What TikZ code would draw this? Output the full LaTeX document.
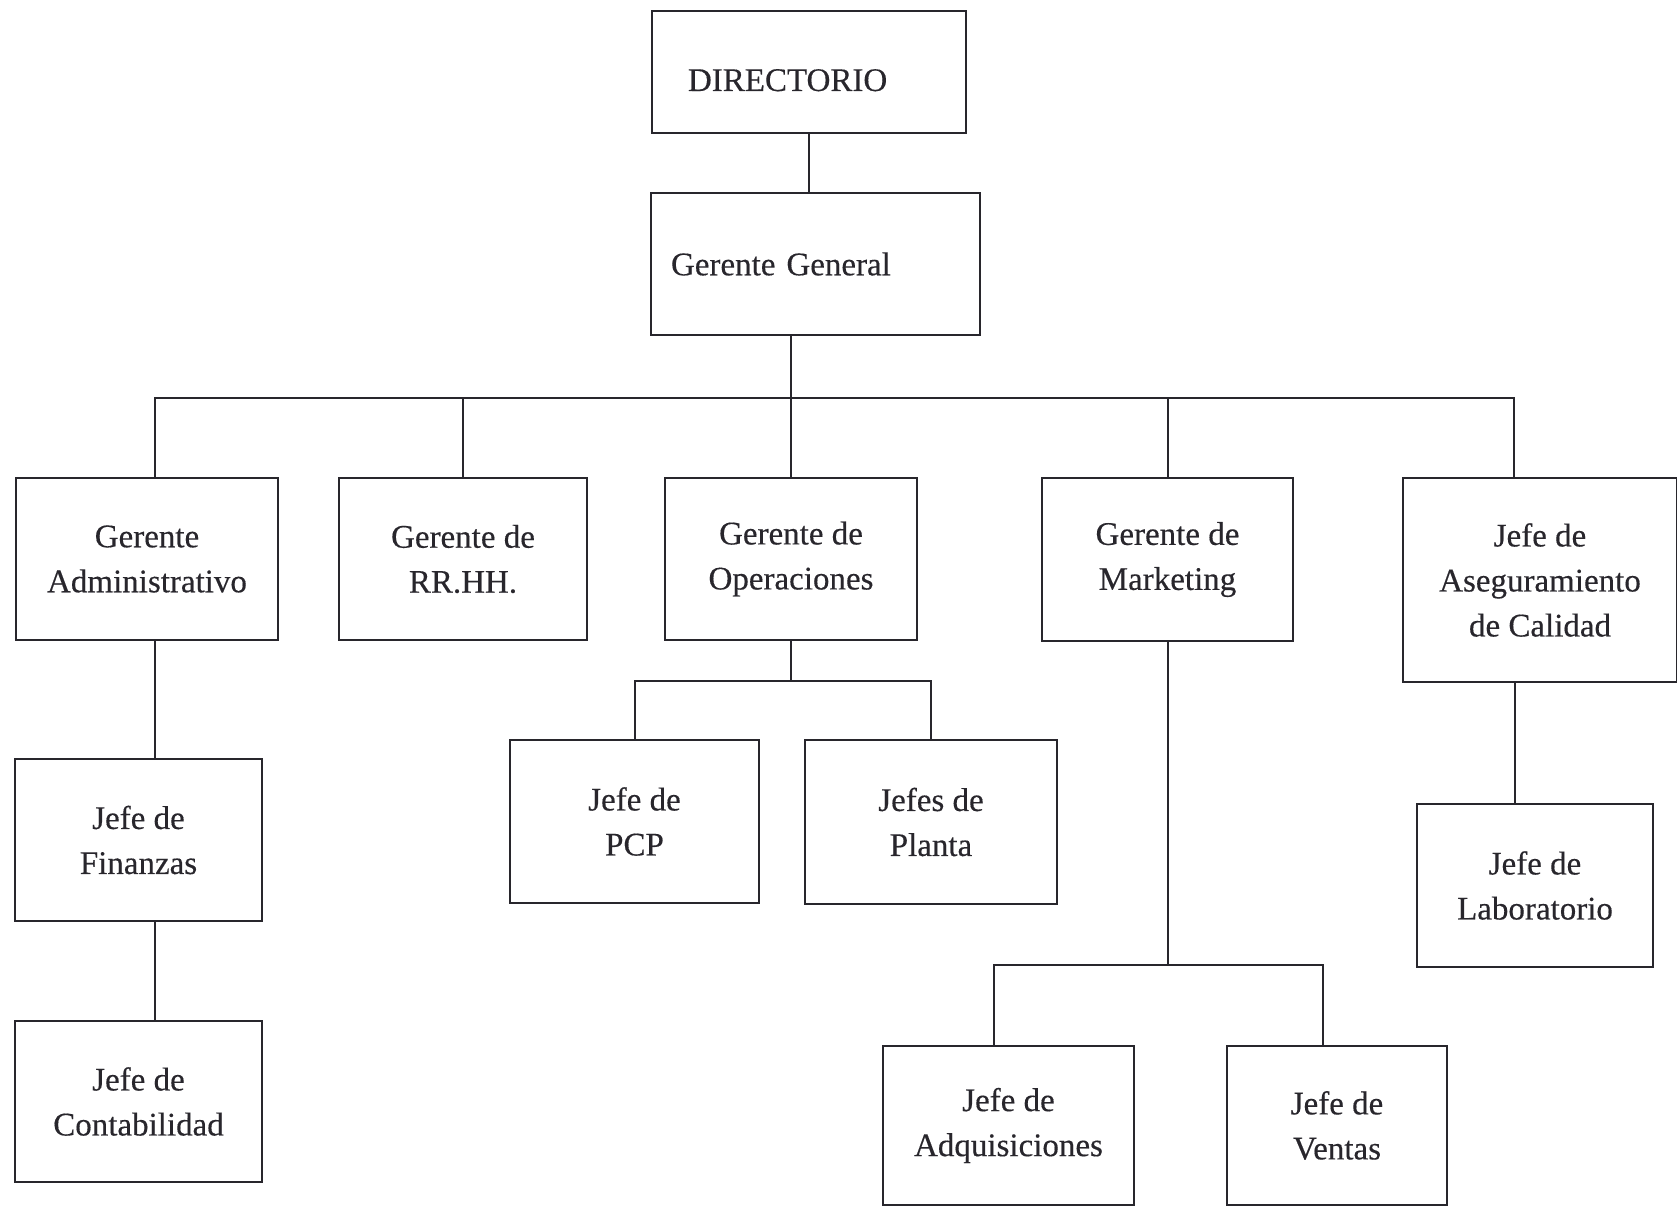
\documentclass[tikz,border=0pt]{standalone}
\usepackage{fontspec}
\setmainfont{Liberation Serif}[FakeBold=0.35]
\usepackage{xcolor}
\definecolor{tinta}{RGB}{40,38,44}

\begin{document}
\begin{tikzpicture}[x=1pt,y=-1pt,
  caja/.style={draw=tinta, line width=2pt, text=tinta, align=center, inner sep=0pt,
    font=\fontsize{33}{45}\selectfont},
  linea/.style={draw=tinta, line width=2pt}]
\useasboundingbox (0,0) rectangle (1677,1206);

% cajas
\node[caja, minimum height=122, text width=242, inner xsep=36pt, align=left,
  text height=38pt, text depth=0pt] (dir) at (809,72) {DIRECTORIO};
\node[caja, minimum height=142, text width=289, inner xsep=20pt, align=left] (gg) at (815.5,264) {Gerente General};

\node[caja, minimum width=262, minimum height=162] (adm) at (147,559) {Gerente\\Administrativo};
\node[caja, minimum width=248, minimum height=162] (rrhh) at (463,559) {Gerente de\\RR.HH.};
\node[caja, minimum width=252, minimum height=162] (ops) at (791,559) {Gerente de\\Operaciones};
\node[caja, minimum width=251, minimum height=163] (mkt) at (1167.5,559.5) {Gerente de\\Marketing};
\node[caja, minimum width=274, minimum height=204] (aseg) at (1540,580) {Jefe de\\Aseguramiento\\de Calidad};

\node[caja, minimum width=247, minimum height=162] (fin) at (138.5,840) {Jefe de\\Finanzas};
\node[caja, minimum width=247, minimum height=161] (cont) at (138.5,1101.5) {Jefe de\\Contabilidad};
\node[caja, minimum width=249, minimum height=163] (pcp) at (634.5,821.5) {Jefe de\\PCP};
\node[caja, minimum width=252, minimum height=164] (planta) at (931,822) {Jefes de\\Planta};
\node[caja, minimum width=236, minimum height=163] (lab) at (1535,885.5) {Jefe de\\Laboratorio};
\node[caja, minimum width=251, minimum height=159] (adq) at (1008.5,1125.5) {Jefe de\\Adquisiciones};
\node[caja, minimum width=220, minimum height=159] (ven) at (1337,1125.5) {Jefe de\\Ventas};

% lineas
\coordinate (busL) at (155,398);
\coordinate (busR) at (1514,398);
\draw[linea] (dir.south) -- (dir.south |- gg.north);
\draw[linea] (gg.south -| ops.north) -- (ops.north);
\draw[linea] (adm.north -| busL) -- (busL) -- (busR) -- (aseg.north -| busR);
\foreach \n in {rrhh,mkt}{
\draw[linea] (\n.north) -- (\n.north |- busL);
}
\draw[linea] (adm.south -| busL) -- (fin.north -| busL);
\draw[linea] (fin.south -| busL) -- (cont.north -| busL);

\coordinate (opsbus) at (791,681);
\draw[linea] (ops.south) -- (opsbus);
\draw[linea] (pcp.north) |- (opsbus) -| (planta.north);

\coordinate (mktbus) at (1166,965);
\draw[linea] (mkt.south) -- (mkt.south |- mktbus);
\draw[linea] ([xshift=-15pt]adq.north) |- (mktbus) -| ([xshift=-14pt]ven.north);

\draw[linea] ([xshift=-25pt]aseg.south) -- ([xshift=-25pt]aseg.south |- lab.north);
\end{tikzpicture}
\end{document}
